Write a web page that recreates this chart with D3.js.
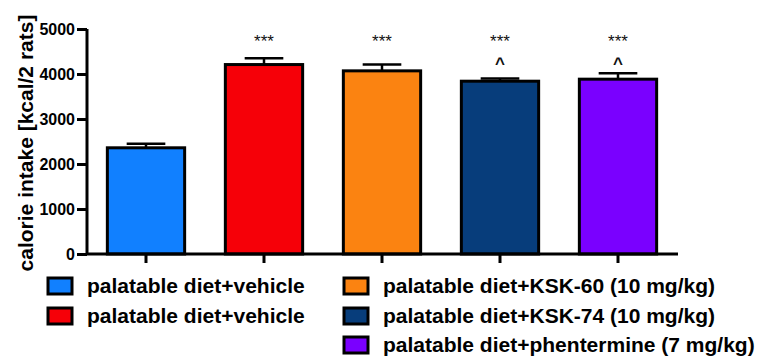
<!DOCTYPE html>
<html><head><meta charset="utf-8">
<script src="https://cdn.jsdelivr.net/npm/d3@7"></script>
<style>
html,body{margin:0;padding:0;background:#fff;}
svg{display:block;font-family:"Liberation Sans",Arial,sans-serif;}
</style></head>
<body>
<svg id="chart" width="760" height="358"></svg>
<script>
const categories = ["palatable diet+vehicle", "palatable diet+vehicle", "palatable diet+KSK-60 (10 mg/kg)", "palatable diet+KSK-74 (10 mg/kg)", "palatable diet+phentermine (7 mg/kg)"];
const values = [2360, 4210, 4070, 3840, 3885];
const errors = [90, 140, 140, 60, 130];
const colors = ["#1180FF", "#F60008", "#FB8311", "#073D7B", "#7A00FF"];
const stars = ["", "***", "***", "***", "***"];
const carets = ["", "", "", "^", "^"];
const yTicks = [0, 1000, 2000, 3000, 4000, 5000];
const yLabel = "calorie intake [kcal/2 rats]";

const svg = d3.select("#chart");
const idx = categories.map((d, i) => i);
const x = d3.scaleBand().domain(idx).range([87, 677]).padding(0);
const y = d3.scaleLinear().domain([0, 5000]).range([254, 29]);
const barW = x.bandwidth() * 0.655;

// bars
const g = svg.append("g");
g.selectAll("line.err").data(idx).join("line")
  .attr("x1", i => x(i) + x.bandwidth() / 2).attr("x2", i => x(i) + x.bandwidth() / 2)
  .attr("y1", i => y(values[i])).attr("y2", i => y(values[i] + errors[i]))
  .attr("stroke", "#000").attr("stroke-width", 2.5);
g.selectAll("line.cap").data(idx).join("line")
  .attr("x1", i => x(i) + x.bandwidth() / 2 - barW / 4).attr("x2", i => x(i) + x.bandwidth() / 2 + barW / 4)
  .attr("y1", i => y(values[i] + errors[i])).attr("y2", i => y(values[i] + errors[i]))
  .attr("stroke", "#000").attr("stroke-width", 2.5);
g.selectAll("rect").data(idx).join("rect")
  .attr("x", i => x(i) + (x.bandwidth() - barW) / 2)
  .attr("width", barW)
  .attr("y", i => y(values[i]))
  .attr("height", i => y(0) - y(values[i]))
  .attr("fill", i => colors[i])
  .attr("stroke", "#000").attr("stroke-width", 3);

// significance marks
g.selectAll("text.star").data(idx).join("text")
  .attr("x", i => x(i) + x.bandwidth() / 2).attr("y", 47)
  .attr("text-anchor", "middle").attr("font-size", 17).attr("fill", "#111")
  .text(i => stars[i]);
g.selectAll("text.caret").data(idx).join("text")
  .attr("x", i => x(i) + x.bandwidth() / 2).attr("y", 69)
  .attr("text-anchor", "middle").attr("font-size", 17).attr("font-weight", "bold").attr("fill", "#111")
  .text(i => carets[i]);

// axes
const yAxis = svg.append("g").attr("transform", "translate(87,0)")
  .call(d3.axisLeft(y).tickValues(yTicks).tickFormat(d3.format("d")).tickSize(10).tickPadding(2));
yAxis.select(".domain").attr("d", `M0,${y(5000)}V${y(0)}`).attr("stroke-width", 3);
yAxis.selectAll(".tick line").attr("stroke-width", 3);
yAxis.selectAll(".tick text").attr("font-size", 16).attr("font-weight", "bold").attr("fill", "#000")
  .attr("font-family", "'Liberation Sans',Arial,sans-serif");

const xAxis = svg.append("g").attr("transform", `translate(0,${y(0)})`)
  .call(d3.axisBottom(x).tickSize(9).tickFormat(""));
xAxis.select(".domain").attr("d", "M87,0H678").attr("stroke-width", 3);
xAxis.selectAll(".tick line").attr("stroke-width", 3);

svg.append("text")
  .attr("transform", "translate(33,143) rotate(-90)")
  .attr("text-anchor", "middle").attr("font-size", 21).attr("font-weight", "bold")
  .text(yLabel);

// legend
const legendPos = [[0, 0], [0, 1], [1, 0], [1, 1], [1, 2]];
const colX = [48, 344], rowY = [278, 308, 337];
const leg = svg.append("g").selectAll("g").data(idx).join("g")
  .attr("transform", i => `translate(${colX[legendPos[i][0]]},${rowY[legendPos[i][1]]})`);
leg.append("rect").attr("width", 24).attr("height", 16)
  .attr("fill", i => colors[i]).attr("stroke", "#000").attr("stroke-width", 3);
leg.append("text").attr("x", 39).attr("y", 15)
  .attr("font-size", 21).attr("font-weight", "bold").attr("fill", "#000")
  .text(i => categories[i]);
</script>
</body></html>
